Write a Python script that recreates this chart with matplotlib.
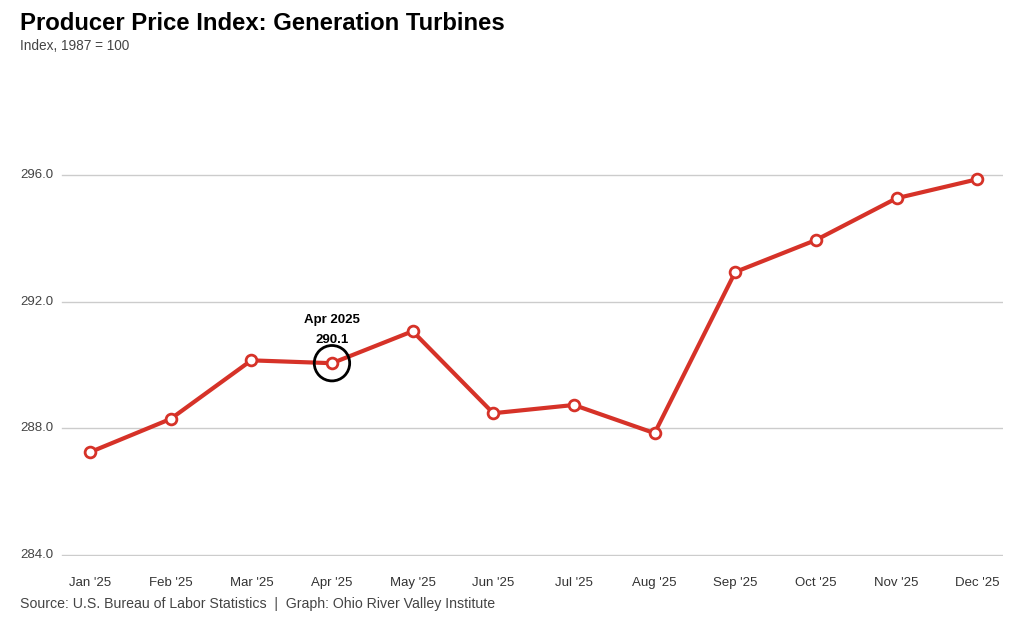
import matplotlib.pyplot as plt
import matplotlib.transforms as mtransforms

months = ["Jan '25", "Feb '25", "Mar '25", "Apr '25", "May '25", "Jun '25",
          "Jul '25", "Aug '25", "Sep '25", "Oct '25", "Nov '25", "Dec '25"]
values = [287.25, 288.3, 290.15, 290.06, 291.07, 288.48,
          288.74, 287.85, 292.94, 293.95, 295.27, 295.87]
yticks = [284.0, 288.0, 292.0, 296.0]

plt.rcParams['font.family'] = ['Liberation Sans', 'DejaVu Sans']
fig = plt.figure(figsize=(10.24, 6.26), dpi=100)
ax = fig.add_axes([20/1024, 1-556/626, 983/1024, (556-96)/626])

x = list(range(len(months)))
ax.plot(x, values, color='#d63228', lw=3, zorder=3)
ax.scatter(x, values, s=60, facecolor='white', edgecolor='#d63228', lw=2, zorder=4)

ax.set_xlim(-0.868, 11.32)
ax.set_ylim(283.97, 298.5)
trans = mtransforms.blended_transform_factory(ax.transAxes, ax.transData)
for t in yticks:
    ax.plot([42/983, 1], [t, t], transform=trans, color='#cccccc', lw=1, zorder=1)
    ax.text(0, t, f"{t:.1f}", transform=trans, ha='left', va='center',
            fontsize=9.5, color='#444444')
ax.set_yticks([])
ax.set_xticks(x)
ax.set_xticklabels(months, fontsize=9.5, color='#333333')
ax.tick_params(axis='x', length=0, pad=15)
for s in ax.spines.values():
    s.set_visible(False)

# highlight April
ax.scatter([3], [values[3]], s=650, facecolor='none', edgecolor='black', lw=2, zorder=5)
ax.annotate("Apr 2025", (3, values[3]), xytext=(0, 31), textcoords='offset points',
            ha='center', va='center', fontsize=9.5, fontweight='bold')
ax.annotate(f"{values[3]:.1f}", (3, values[3]), xytext=(0, 17), textcoords='offset points',
            ha='center', va='center', fontsize=9.5, fontweight='bold')

fig.text(20/1024, 1-23/626, "Producer Price Index: Generation Turbines", fontsize=17.2,
         fontweight='bold', va='center')
fig.text(20/1024, 1-46/626, "Index, 1987 = 100", fontsize=9.8, color='#444444', va='center')
fig.text(20/1024, 1-604/626,
         "Source: U.S. Bureau of Labor Statistics  |  Graph: Ohio River Valley Institute",
         fontsize=10.2, color='#444444', va='center')

fig.savefig("out.png", dpi=100, facecolor='white')
